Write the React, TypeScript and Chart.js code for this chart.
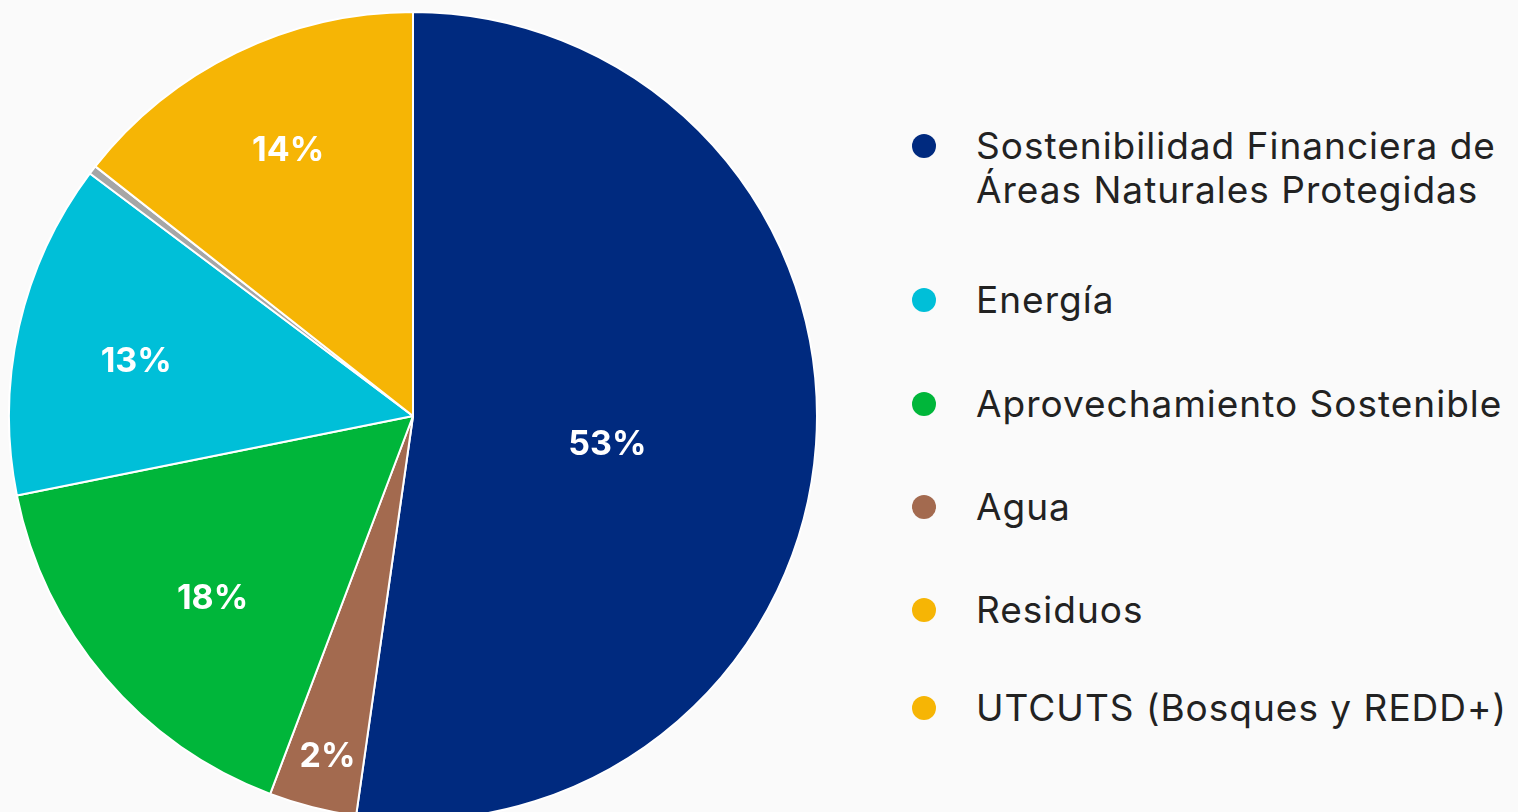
import React, { useEffect, useRef } from "react";
import { Chart, registerables } from "chart.js";

Chart.register(...registerables);

// Slices in clockwise drawing order (starting at 12 o'clock)
const SLICE_NAMES = [
  "Sostenibilidad Financiera de Áreas Naturales Protegidas",
  "Agua",
  "Aprovechamiento Sostenible",
  "Energía",
  "Residuos",
  "UTCUTS (Bosques y REDD+)",
];
const SLICE_VALUES = [52.25, 3.5, 16.1, 13.4, 0.35, 14.4];
const SLICE_LABELS = ["53%", "2%", "18%", "13%", "", "14%"];
const SLICE_COLORS = ["#002a7f", "#a36a4f", "#00b63a", "#00bfd8", "#a6a6a6", "#f6b505"];

// label placement (style): radial fraction + small pixel nudge
const LABEL_RADIUS = [0.48, 0.86, 0.67, 0.7, 0.7, 0.73];
const LABEL_NUDGE_X = [1, 1, 6, -1, 0, 4];
const LABEL_NUDGE_Y = [15, 4, 8, 8, 0, 0];

// Legend (as shown, in its own order)
const LEGEND_NAMES = [
  ["Sostenibilidad Financiera de", "Áreas Naturales Protegidas"],
  ["Energía"],
  ["Aprovechamiento Sostenible"],
  ["Agua"],
  ["Residuos"],
  ["UTCUTS (Bosques y REDD+)"],
];
const LEGEND_COLORS = ["#002a7f", "#00bfd8", "#00b63a", "#a36a4f", "#f6b505", "#f6b505"];
const LEGEND_TOPS = [124, 278, 382, 485, 588, 686];

const labelPlugin = {
  id: "sliceLabels",
  afterDatasetsDraw(chart: any) {
    const ctx = chart.ctx;
    const meta = chart.getDatasetMeta(0);
    ctx.save();
    ctx.fillStyle = "#ffffff";
    ctx.font = "700 34px Inter, 'Noto Sans', sans-serif";
    ctx.textAlign = "center";
    ctx.textBaseline = "middle";
    meta.data.forEach((arc: any, i: number) => {
      const text = SLICE_LABELS[i];
      if (!text) return;
      const { x, y, startAngle, endAngle, outerRadius } = arc.getProps(
        ["x", "y", "startAngle", "endAngle", "outerRadius"],
        true
      );
      const mid = (startAngle + endAngle) / 2;
      const r = outerRadius * LABEL_RADIUS[i];
      ctx.fillText(
        text,
        x + Math.cos(mid) * r + LABEL_NUDGE_X[i],
        y + Math.sin(mid) * r + LABEL_NUDGE_Y[i]
      );
    });
    ctx.restore();
  },
};

export default function App() {
  const canvasRef = useRef<HTMLCanvasElement | null>(null);

  useEffect(() => {
    document.body.style.margin = "0";
    const canvas = canvasRef.current;
    if (!canvas) return;
    const chart = new Chart(canvas, {
      type: "pie",
      data: {
        labels: SLICE_NAMES,
        datasets: [
          {
            data: SLICE_VALUES,
            backgroundColor: SLICE_COLORS,
            borderColor: "#ffffff",
            borderWidth: 2,
          },
        ],
      },
      options: {
        responsive: false,
        animation: false,
        layout: { padding: { left: 8, right: 8, top: 11, bottom: 11 } },
        plugins: {
          legend: { display: false },
          tooltip: { enabled: false },
        },
      },
      plugins: [labelPlugin],
    });
    return () => chart.destroy();
  }, []);

  return (
    <div
      style={{
        position: "relative",
        width: 1518,
        height: 812,
        overflow: "hidden",
        background: "#fafafa",
        fontFamily: "Inter, 'Noto Sans', sans-serif",
      }}
    >
      <canvas
        ref={canvasRef}
        width={826}
        height={832}
        style={{ position: "absolute", left: 0, top: 0, width: 826, height: 832 }}
      />
      {LEGEND_NAMES.map((lines, i) => (
        <div
          key={i}
          style={{
            position: "absolute",
            left: 912,
            top: LEGEND_TOPS[i],
            display: "flex",
            alignItems: "flex-start",
          }}
        >
          <span
            style={{
              display: "inline-block",
              width: 24,
              height: 24,
              borderRadius: "50%",
              background: LEGEND_COLORS[i],
              marginTop: 10,
              marginRight: 40,
            }}
          />
          <div
            style={{
              fontSize: 37,
              lineHeight: "44px",
              letterSpacing: "1px",
              color: "#222222",
            }}
          >
            {lines.map((l, j) => (
              <div key={j} style={{ whiteSpace: "nowrap" }}>
                {l}
              </div>
            ))}
          </div>
        </div>
      ))}
    </div>
  );
}
